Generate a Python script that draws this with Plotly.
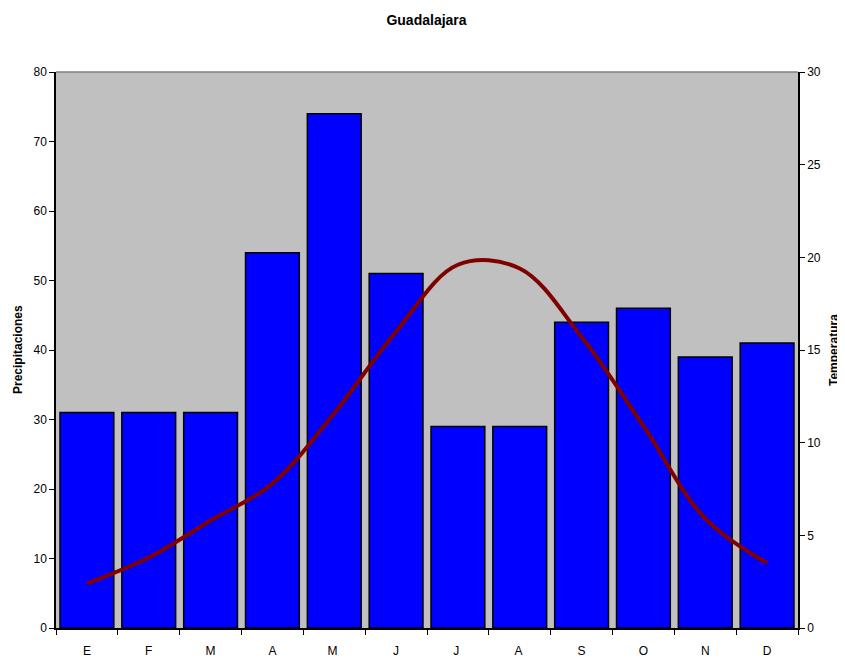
import plotly.graph_objects as go

months = ["E", "F", "M", "A", "M ", "J", "J ", "A ", "S", "O", "N", "D"]
precip = [31, 31, 31, 54, 74, 51, 29, 29, 44, 46, 39, 41]
temp = [2.4, 3.8, 5.8, 7.8, 11.6, 16.0, 19.6, 19.4, 15.7, 10.9, 5.9, 3.5]
left_ticks = [0, 10, 20, 30, 40, 50, 60, 70, 80]
right_ticks = [0, 5, 10, 15, 20, 25, 30]

FONT = "Liberation Sans Narrow, Arial Narrow, Liberation Sans, Arial, sans-serif"

W, H = 837, 656
L, R, T, B = 48, 47, 64, 36
PW = W - L - R

fig = go.Figure()
fig.add_trace(go.Bar(
    x=months, y=precip, name="Precipitaciones",
    marker=dict(color="#0000FF", line=dict(color="#000000", width=1.5)),
    yaxis="y",
))
fig.add_trace(go.Scatter(
    x=months, y=temp, name="Temperatura", mode="lines",
    line=dict(color="#800000", width=4, shape="spline", smoothing=1.0),
    yaxis="y2",
))

fig.update_layout(
    width=W, height=H,
    margin=dict(l=L, r=R, t=T, b=B),
    paper_bgcolor="white",
    plot_bgcolor="#C0C0C0",
    showlegend=False,
    bargap=0.13,
    font=dict(family=FONT, size=12, color="black"),
    title=dict(text="<b>Guadalajara</b>", x=0.5, xanchor="center", y=1 - 12 / H, yanchor="middle",
               font=dict(family=FONT, size=14, color="black")),
    xaxis=dict(
        type="category", tickson="boundaries", ticks="outside", ticklen=5,
        tickcolor="black", showline=True, linecolor="black", linewidth=1.5,
        showgrid=False, tickfont=dict(size=12), automargin=False,
        ticklabelstandoff=11,
    ),
    yaxis=dict(
        range=[0, 80], tickvals=left_ticks, ticks="outside", ticklen=5,
        tickcolor="black", showline=True, linecolor="black", linewidth=1.5,
        showgrid=False, zeroline=False, automargin=False,
    ),
    yaxis2=dict(
        range=[0, 30], tickvals=right_ticks, overlaying="y", side="right",
        ticks="outside", ticklen=5, tickcolor="black", showline=True,
        linecolor="black", linewidth=1.5, showgrid=False, zeroline=False,
        automargin=False,
    ),
    shapes=[dict(type="line", xref="paper", yref="paper", x0=0, x1=1, y0=1, y1=1,
                 line=dict(color="#808080", width=1.5))],
    annotations=[
        dict(text="<b>Precipitaciones</b>", xref="paper", yref="paper",
             x=(10 - L) / PW, y=0.5, textangle=-90, showarrow=False,
             xanchor="center", yanchor="middle", font=dict(size=12)),
        dict(text="<b>Temperatura</b>", xref="paper", yref="paper",
             x=(826 - L) / PW, y=0.5, textangle=-90, showarrow=False,
             xanchor="center", yanchor="middle", font=dict(size=12)),
    ],
)

fig.write_html("out.html")
